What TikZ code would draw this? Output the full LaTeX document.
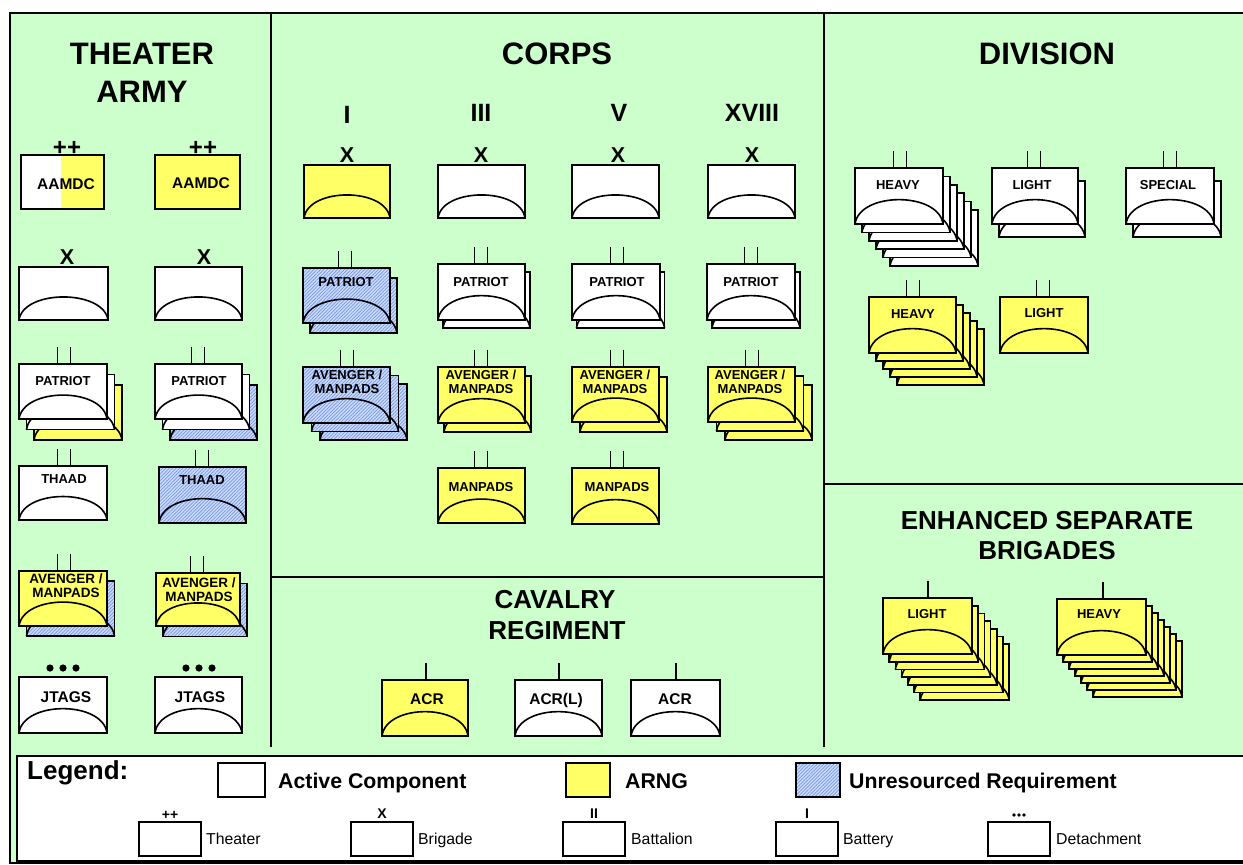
\documentclass[tikz,border=0pt]{standalone}
\usepackage{fontspec}
\setmainfont{Liberation Sans}
\usetikzlibrary{patterns.meta}
\definecolor{bggreen}{RGB}{204,255,204}
\definecolor{yel}{RGB}{255,255,102}
\definecolor{bluebg}{RGB}{205,220,250}
\definecolor{bluehatch}{RGB}{115,150,230}
\tikzset{
  cardline/.style={line width=1.6pt, draw=black},
  cw/.style={fill=white},
  cy/.style={fill=yel},
  cb/.style={preaction={fill=bluebg}, pattern={Lines[angle=45,distance=2.4pt,line width=0.7pt]}, pattern color=bluehatch},
  tick/.style={line width=1.6pt},
  lbl/.style={font=\bfseries\fontsize{13}{14}\selectfont, inner sep=0pt, align=center},
  lblb/.style={font=\bfseries\fontsize{15.5}{16}\selectfont, inner sep=0pt},
  lblav/.style={font=\bfseries\fontsize{13.5}{14}\selectfont, inner sep=0pt, align=center},
  head/.style={font=\bfseries\fontsize{31}{31}\selectfont, inner sep=0pt},
  subhead/.style={font=\bfseries\fontsize{26}{26}\selectfont, inner sep=0pt},
  roman/.style={font=\bfseries\fontsize{25}{25}\selectfont, inner sep=0pt},
  xmark/.style={font=\bfseries\fontsize{21.5}{21.5}\selectfont, inner sep=0pt},
  pmark/.style={font=\bfseries\fontsize{24}{24}\selectfont, inner sep=0pt},
  smark/.style={font=\bfseries\fontsize{14}{14}\selectfont, inner sep=0pt},
  legt/.style={font=\bfseries\fontsize{21.3}{22}\selectfont, inner sep=0pt, anchor=base west},
  legs/.style={font=\fontsize{15.8}{16}\selectfont, inner sep=0pt, anchor=base west},
  legbox/.style={line width=1.6pt, draw=black},
  frame/.style={line width=2pt, draw=black},
  divider/.style={line width=1.5pt, draw=black}
}
\newcommand\ucard[5]{%
  \draw[cardline,#5] (#1,#2) rectangle ++(#3,#4);
  \draw[cardline] (#1,#2+#4) .. controls (#1+0.05*#3,#2+0.42*#4) and (#1+0.95*#3,#2+0.42*#4) .. (#1+#3,#2+#4);}
\newcommand\ustack[7]{\foreach \k/\s in {#7}{\ucard{#1+\k*#5}{#2+\k*#6}{#3}{#4}{\s}}}
\newcommand\twoticks[2]{\draw[tick] (#1-6.5,#2) -- (#1-6.5,#2-17) (#1+6.5,#2) -- (#1+6.5,#2-17);}
\newcommand\onetick[2]{\draw[tick] (#1,#2) -- (#1,#2-17);}
\newcommand\bigdots[2]{\fill (#1-13,#2) circle (3.6) (#1,#2) circle (3.6) (#1+13,#2) circle (3.6);}
\begin{document}
\begin{tikzpicture}[x=1pt,y=-1pt]
\useasboundingbox (0,0) rectangle (1243,865);
\clip (0,0) rectangle (1243,865);
% frame and sections
\fill[white] (0,0) rectangle (1243,865);
\draw[frame,fill=bggreen] (10,13) rectangle (1260,863);
\draw[divider] (271,13) -- (271,747);
\draw[divider] (824,13) -- (824,747);
\draw[divider] (271,577) -- (824,577);
\draw[divider] (824,484) -- (1260,484);
\draw[line width=2.4pt,fill=white] (17,756) rectangle (1260,861);
% headings
\node[head] (theater1) at (142,54) {THEATER};
\node[head] (theater2) at (142,92) {ARMY};
\node[head] (corps) at (557,54) {CORPS};
\node[head] (division) at (1047,54) {DIVISION};
\node[subhead] (esb1) at (1047,521) {ENHANCED SEPARATE};
\node[subhead] (esb2) at (1047,551) {BRIGADES};
\node[subhead] (cav1) at (555,600) {CAVALRY};
\node[subhead] (cav2) at (557,631) {REGIMENT};
% ---------- THEATER ARMY ----------
\fill[white] (21,155) rectangle (61,209);
\fill[yel] (61,155) rectangle (104,209);
\draw[cardline] (21,155) rectangle (104,209);
\node[lblb] (aamdcL) at (66,184) {AAMDC};
\node[pmark] (ppL) at (67,148) {++};
\draw[cardline,cy] (155,155) rectangle (240,209);
\node[lblb] (aamdcR) at (201,183) {AAMDC};
\node[pmark] (ppR) at (203,148) {++};
\node[xmark] (xTL) at (67,257) {X};
\ucard{19}{267}{89}{53}{cw}
\node[xmark] (xTR) at (204,257) {X};
\ucard{155}{267}{87}{53}{cw}
\twoticks{64}{364}
\ustack{19}{364}{88}{55}{7.5}{10.5}{2/cy,1/cw,0/cw}
\node[lbl] (patTL) at (63,381) {PATRIOT};
\twoticks{198}{364}
\ustack{155}{364}{87}{55}{7.5}{10.5}{2/cb,1/cw,0/cw}
\node[lbl] (patTR) at (199,381) {PATRIOT};
\twoticks{64}{466}
\ucard{19}{466}{88}{54}{cw}
\node[lbl] (thaadL) at (64,479) {THAAD};
\twoticks{202}{467}
\ucard{159}{467}{87}{56}{cb}
\node[lbl] (thaadR) at (202,480) {THAAD};
\twoticks{64}{571}
\ustack{19}{571}{88}{55}{7.5}{10}{1/cb,0/cy}
\node[lblav] (avTL) at (66,586) {AVENGER /\\MANPADS};
\twoticks{197}{573}
\ustack{156}{573}{84}{53}{7}{10.5}{1/cb,0/cy}
\node[lblav] (avTR) at (199,590) {AVENGER /\\MANPADS};
\bigdots{63}{668}
\ucard{19}{677}{88}{56}{cw}
\node[lblb] (jtagsL) at (66,697) {JTAGS};
\bigdots{199}{668}
\ucard{155}{677}{87}{56}{cw}
\node[lblb] (jtagsR) at (200,697) {JTAGS};
% ---------- CORPS ----------
\node[roman] (cI) at (347,115) {I};
\node[roman] (cIII) at (481,113) {III};
\node[roman] (cV) at (619,113) {V};
\node[roman] (cXVIII) at (752,113) {XVIII};
\node[xmark] (xI) at (347,155) {X};
\node[xmark] (xIII) at (481,155) {X};
\node[xmark] (xV) at (618,155) {X};
\node[xmark] (xXVIII) at (752,155) {X};
\ucard{304}{165}{86}{53}{cy}
\ucard{438}{165}{87}{53}{cw}
\ucard{572}{165}{87}{53}{cw}
\ucard{708}{165}{87}{53}{cw}
% patriot
\twoticks{345}{268}
\ustack{303}{268}{87}{55}{7}{10}{1/cb,0/cb}
\node[lbl] (patI) at (346,282) {PATRIOT};
\twoticks{481}{264}
\ustack{438}{264}{87}{56}{5}{8}{1/cw,0/cw}
\node[lbl] (patIII) at (481,282) {PATRIOT};
\twoticks{617}{264}
\ustack{572}{264}{88}{56}{4.5}{8}{1/cw,0/cw}
\node[lbl] (patV) at (617,282) {PATRIOT};
\twoticks{751}{264}
\ustack{707}{264}{88}{56}{5}{8}{1/cw,0/cw}
\node[lbl] (patXVIII) at (751,282) {PATRIOT};
% avenger
\twoticks{347}{367}
\ustack{303}{367}{87}{56}{8.5}{8.5}{2/cb,1/cb,0/cb}
\node[lbl] (avI) at (347,382) {AVENGER /\\MANPADS};
\twoticks{481}{367}
\ustack{438}{367}{87}{56}{6}{9}{1/cy,0/cy}
\node[lbl] (avIII) at (481,382) {AVENGER /\\MANPADS};
\twoticks{617}{367}
\ustack{572}{367}{87}{55}{8}{10}{1/cy,0/cy}
\node[lbl] (avV) at (615,382) {AVENGER /\\MANPADS};
\twoticks{752}{367}
\ustack{708}{367}{87}{55}{8.5}{9}{2/cy,1/cy,0/cy}
\node[lbl] (avXVIII) at (750,382) {AVENGER /\\MANPADS};
% manpads
\twoticks{481}{468}
\ucard{438}{468}{87}{55}{cy}
\node[lbl] (manIII) at (481,487) {MANPADS};
\twoticks{617}{468}
\ucard{572}{468}{87}{56}{cy}
\node[lbl] (manV) at (617,487) {MANPADS};
% ---------- CAVALRY ----------
\onetick{426}{680}
\ucard{382}{680}{86}{56}{cy}
\node[lblb] (acr1) at (427,699.5) {ACR};
\onetick{559}{680}
\ucard{515}{680}{87}{56}{cw}
\node[lblb] (acrl) at (556,700.5) {ACR(L)};
\onetick{676}{680}
\ucard{631}{680}{89}{56}{cw}
\node[lblb] (acr2) at (675,699.5) {ACR};
% ---------- DIVISION ----------
\twoticks{900}{168}
\ustack{855}{168}{88}{56}{7}{8.4}{5/cw,4/cw,3/cw,2/cw,1/cw,0/cw}
\node[lbl] (heavyW) at (898,185.5) {HEAVY};
\twoticks{1034}{168}
\ustack{992}{168}{86}{56}{7}{13}{1/cw,0/cw}
\node[lbl] (lightW) at (1032,185.5) {LIGHT};
\twoticks{1170}{168}
\ustack{1126}{168}{88}{56}{7}{13}{1/cw,0/cw}
\node[lbl] (special) at (1168,185.5) {SPECIAL};
\twoticks{913}{297}
\ustack{869}{297}{87}{56}{7}{8}{4/cy,3/cy,2/cy,1/cy,0/cy}
\node[lbl] (heavyY) at (913,314) {HEAVY};
\twoticks{1043}{297}
\ucard{1000}{297}{88}{56}{cy}
\node[lbl] (lightY) at (1044,313) {LIGHT};
% ---------- ESB ----------
\onetick{928}{598}
\ustack{883}{598}{89}{56}{6.2}{7.7}{6/cy,5/cy,4/cy,3/cy,2/cy,1/cy,0/cy}
\node[lbl] (esbL) at (927,614.5) {LIGHT};
\onetick{1103}{599}
\ustack{1057}{599}{89}{56}{6}{7}{6/cy,5/cy,4/cy,3/cy,2/cy,1/cy,0/cy}
\node[lbl] (esbH) at (1099,614.5) {HEAVY};
% ---------- LEGEND ----------
\node[font=\bfseries\fontsize{26}{26}\selectfont, inner sep=0pt, anchor=base west] (legend) at (27,779) {Legend:};
\draw[legbox,cw] (218,763) rectangle (265,797);
\node[legt] (lac) at (278,788.5) {Active Component};
\draw[legbox,cy] (566,763) rectangle (610,797);
\node[legt] (larng) at (625,788.5) {ARNG};
\draw[legbox,cb] (796,763) rectangle (840,797);
\node[legt] (lunr) at (849,788.5) {Unresourced Requirement};
\draw[legbox,cw] (139,822) rectangle (201,856);
\node[smark] (lpp) at (170,815) {++};
\node[legs] (lth) at (206,844) {Theater};
\draw[legbox,cw] (351,822) rectangle (413,856);
\node[smark] (lx) at (382,814) {X};
\node[legs] (lbr) at (418,844) {Brigade};
\draw[legbox,cw] (563,822) rectangle (625,856);
\node[smark] (lii) at (594,814) {II};
\node[legs] (lbn) at (631,844) {Battalion};
\draw[legbox,cw] (776,822) rectangle (838,856);
\node[smark] (li) at (807,814) {I};
\node[legs] (lbt) at (843,844) {Battery};
\draw[legbox,cw] (988,822) rectangle (1050,856);
\fill (1014,815) circle (1.9) (1019,815) circle (1.9) (1024,815) circle (1.9);
\node[legs] (ldt) at (1056,844) {Detachment};
\end{tikzpicture}
\end{document}
